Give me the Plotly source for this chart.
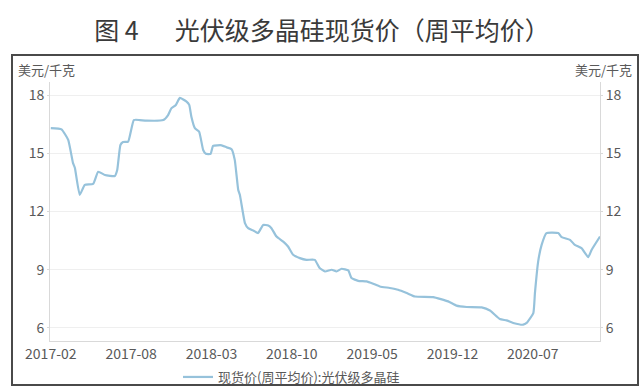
import plotly.graph_objects as go

# week index from 2017-02-01 (weekly data), key points
weeks = [0, 4, 6.5, 8.3, 9, 10.8, 12.7, 15.8, 17.7, 20.2, 23.9, 24.8, 26, 27, 28.9, 31, 33.2,
         35.7, 42, 43.8, 45, 46.7, 48.2, 50.7, 51.7, 52.5, 53.8, 55.4, 56.9, 57.9, 59.7, 60.6,
         63.8, 65.6, 67.5, 68.7, 70, 70.6, 72.5, 73.7, 75.6, 77.4, 79.3, 81.2, 82.4, 84.3,
         86.8, 88.6, 90.5, 93, 95.5, 98.6, 100.4, 102.4, 104.9, 106.7, 108.6, 111.1, 112.3,
         114.8, 117.9, 120.4, 122.9, 126.6, 129.7, 132.9, 136, 142.8, 148.4, 151.5, 155.3,
         160.9, 164, 167.7, 170.2, 172.7, 176.4, 177.7, 180.2, 180.8, 182, 183.3, 185.1,
         189.5, 190.8, 193.9, 195.7, 198.2, 200.7, 202, 205.1]
price = [16.29, 16.23, 15.69, 14.49, 14.24, 12.86, 13.37, 13.42, 14.05, 13.88, 13.83, 14.14,
         15.43, 15.58, 15.60, 16.71, 16.71, 16.68, 16.71, 16.97, 17.31, 17.49, 17.85, 17.66,
         17.49, 16.88, 16.29, 16.11, 15.17, 14.97, 14.97, 15.38, 15.41, 15.31, 15.21, 14.66,
         13.11, 12.86, 11.40, 11.14, 11.02, 10.89, 11.31, 11.28, 11.14, 10.71, 10.45, 10.20,
         9.77, 9.60, 9.51, 9.51, 9.09, 8.91, 9.00, 8.91, 9.05, 8.97, 8.57, 8.43, 8.40, 8.28,
         8.14, 8.06, 7.97, 7.80, 7.62, 7.59, 7.37, 7.15, 7.08, 7.06, 6.90, 6.46, 6.39, 6.26,
         6.17, 6.26, 6.77, 7.80, 9.42, 10.28, 10.89, 10.89, 10.68, 10.54, 10.28, 10.11, 9.65,
         10.03, 10.71]

tick_pos = [0, 30, 60, 90, 120, 150, 180]
tick_labels = ["2017-02", "2017-08", "2018-03", "2018-10", "2019-05", "2019-12", "2020-07"]
y_ticks = [6, 9, 12, 15, 18]

LINE = "#96c2db"
TXT = "#595959"
FONT = "Noto Sans CJK SC"

fig = go.Figure()
fig.add_trace(go.Scatter(x=weeks, y=price, mode="lines", name="现货价(周平均价):光伏级多晶硅",
                         line=dict(color=LINE, width=2.2, shape="spline", smoothing=0.4)))
fig.add_trace(go.Scatter(x=weeks, y=price, mode="lines", yaxis="y2", showlegend=False,
                         hoverinfo="skip", line=dict(color="rgba(0,0,0,0)", width=0)))

W, H = 644, 388
L, R, T, B = 50, 44, 82, 47
pw, ph = W - L - R, H - T - B


def px_x(px):
    return (px - L) / pw


def px_y(py):
    return (H - B - py) / ph


yr = [5.33, 18.67]
fig.update_layout(
    width=W, height=H,
    margin=dict(l=L, r=R, t=T, b=B, autoexpand=False),
    paper_bgcolor="white", plot_bgcolor="white",
    font=dict(family=FONT, color=TXT, size=13),
    title=dict(text="图 4　  光伏级多晶硅现货价（周平均价）", x=322 / W, xanchor="center",
               y=1 - 31 / H, yanchor="middle",
               font=dict(family=FONT, size=25, color="#3a3a3a")),
    xaxis=dict(range=[-0.3, 205.1], tickvals=tick_pos, ticktext=tick_labels,
               showgrid=False, showline=True, linecolor="#d9d9d9", linewidth=1,
               ticks="", zeroline=False, tickfont=dict(size=14, color=TXT)),
    yaxis=dict(range=yr, tickvals=y_ticks, showgrid=True, gridcolor="#efefef",
               showline=True, linecolor="#d9d9d9", linewidth=1, ticks="outside",
               ticklen=2, tickcolor="#d9d9d9", zeroline=False,
               tickfont=dict(size=14, color=TXT)),
    yaxis2=dict(range=yr, tickvals=y_ticks, overlaying="y", side="right",
                showgrid=False, showline=True, linecolor="#d9d9d9", linewidth=1,
                ticks="outside", ticklen=2, tickcolor="#d9d9d9", zeroline=False,
                tickfont=dict(size=14, color=TXT)),
    showlegend=True,
    legend=dict(orientation="h", x=px_x(178), xanchor="left", y=px_y(377), yanchor="middle",
                itemwidth=30, font=dict(size=13, color=TXT), bgcolor="rgba(0,0,0,0)"),
    shapes=[dict(type="rect", xref="paper", yref="paper",
                 x0=px_x(12), x1=px_x(638), y0=px_y(385), y1=px_y(55),
                 line=dict(color="#4a4a4a", width=2), fillcolor="rgba(0,0,0,0)", layer="below")],
    annotations=[
        dict(text="美元/千克", xref="paper", yref="paper", x=px_x(16), y=px_y(69),
             xanchor="left", yanchor="middle", showarrow=False,
             font=dict(size=13, color=TXT)),
        dict(text="美元/千克", xref="paper", yref="paper", x=px_x(634), y=px_y(69),
             xanchor="right", yanchor="middle", showarrow=False,
             font=dict(size=13, color=TXT)),
    ],
)

fig.write_html("out.html", config={"displayModeBar": False},
               post_script="document.body.style.margin='0';document.body.style.overflow='hidden';")
